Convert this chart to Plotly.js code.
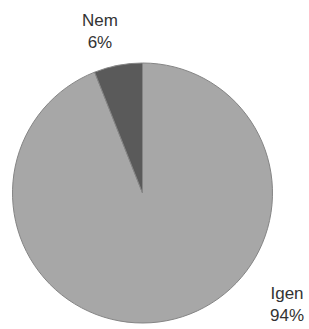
<!DOCTYPE html>
<html>
<head>
<meta charset="utf-8">
<script src="https://cdn.plot.ly/plotly-3.0.1.min.js"></script>
<style>html,body{margin:0;padding:0;background:#fff;}#chart{width:309px;height:329px;}</style>
</head>
<body>
<div id="chart"></div>
<script>
var labels = ["Igen", "Nem"];
var values = [94, 6];
var colors = ["#a7a7a7", "#5a5a5a"];
var labelPos = [[287, 304], [100, 31]]; // pixel centres of outside labels

var W = 309, H = 329;
var annotations = labels.map(function (l, i) {
  return {
    text: l + "<br>" + values[i] + "%",
    x: labelPos[i][0] / W, y: 1 - labelPos[i][1] / H,
    xref: "paper", yref: "paper",
    xanchor: "center", yanchor: "middle",
    showarrow: false,
    font: {family: "Liberation Sans, Arial, sans-serif", size: 17, color: "#333333"}
  };
});

Plotly.newPlot("chart", [{
  type: "pie",
  labels: labels,
  values: values,
  sort: false,
  direction: "clockwise",
  rotation: 0,
  textinfo: "none",
  hoverinfo: "none",
  marker: {colors: colors, line: {color: "#858585", width: 1}},
  domain: {x: [12 / W, 273 / W], y: [6 / H, 266 / H]}
}], {
  width: W, height: H,
  margin: {l: 0, r: 0, t: 0, b: 0},
  showlegend: false,
  paper_bgcolor: "#ffffff",
  annotations: annotations
}, {staticPlot: true, displayModeBar: false});
</script>
</body>
</html>
